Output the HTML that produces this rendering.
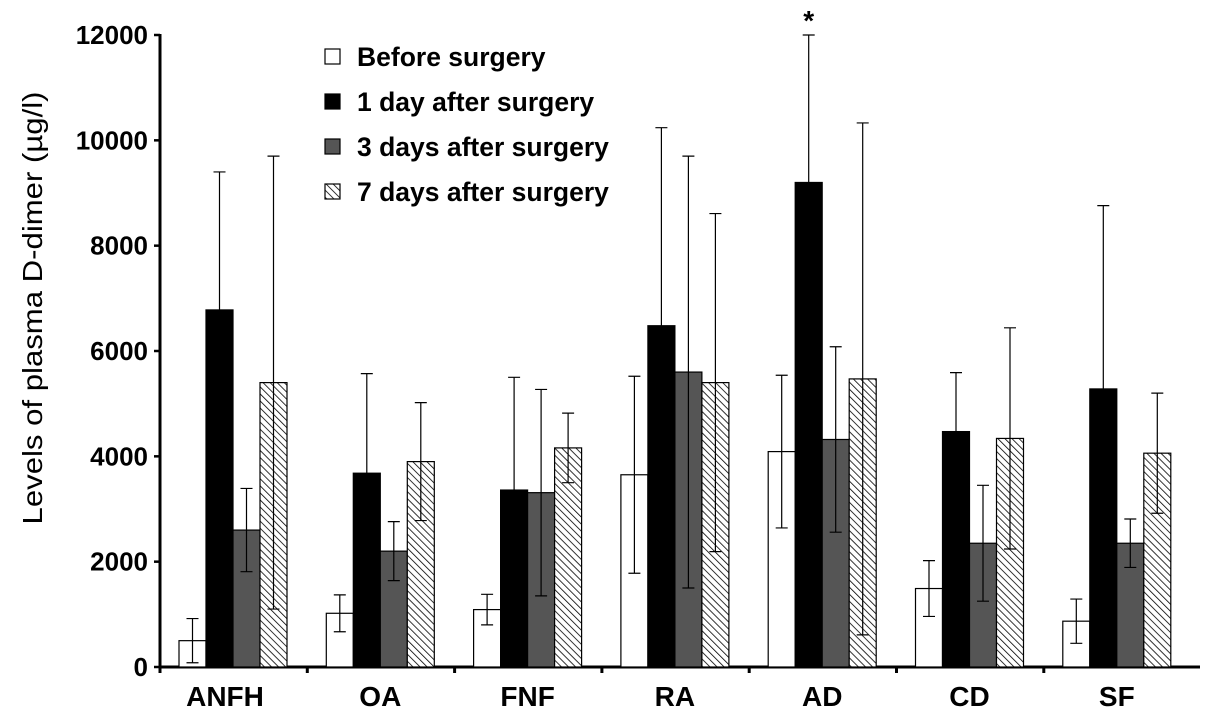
<!DOCTYPE html>
<html><head><meta charset="utf-8"><style>
body{margin:0;background:#fff;}
svg{display:block;font-family:"Liberation Sans",Arial,sans-serif;font-weight:bold;}
</style></head><body>
<svg id="c" width="1205" height="725">
<defs><pattern id="hatch" patternUnits="userSpaceOnUse" width="5" height="5" patternTransform="rotate(-45)"><rect width="5" height="5" fill="#fff"/><line x1="0" y1="0" x2="0" y2="5" stroke="#000" stroke-width="1.6"/></pattern></defs>
</svg>
<script>
const categories=["ANFH","OA","FNF","RA","AD","CD","SF"];
const seriesNames=["Before surgery","1 day after surgery","3 days after surgery","7 days after surgery"];
const before=[500,1020,1090,3650,4090,1490,870];
const day1=[6780,3680,3360,6480,9200,4470,5280];
const day3=[2600,2200,3310,5600,4320,2350,2350];
const day7=[5400,3900,4160,5400,5470,4340,4060];
const errBefore=[420,350,290,1870,1450,530,420];
const errDay1=[2620,1890,2140,3760,2800,1120,3480];
const errDay3=[790,560,1960,4100,1760,1100,460];
const errDay7=[4300,1120,660,3210,4860,2100,1140];
const yTicks=[0,2000,4000,6000,8000,10000,12000];
const svg=document.getElementById('c');
const NS='http://www.w3.org/2000/svg';
function el(t,a,txt){const e=document.createElementNS(NS,t);for(const k in a)e.setAttribute(k,a[k]);if(txt!=null)e.textContent=txt;svg.appendChild(e);return e;}
const y0=667,y1=35,yMax=12000,ax=160;
function Y(v){return y0-(v/yMax)*(y0-y1);}
const gx0=179,gStep=147.3,bw=27;
function X(ci,si){return gx0+ci*gStep+si*bw;}
const series=[before,day1,day3,day7],errs=[errBefore,errDay1,errDay3,errDay7];
const fills=["#fff","#000","#555","url(#hatch)"];
let a=el('line',{x1:ax,y1:y1-1,x2:ax,y2:y0+1,stroke:'#000','stroke-width':3});

a=el('line',{x1:ax-1,y1:y0,x2:1200,y2:y0,stroke:'#000','stroke-width':3});

yTicks.forEach(v=>{
 const t=el('line',{x1:ax-6,y1:Y(v),x2:ax,y2:Y(v),stroke:'#000','stroke-width':2.5});
 
 const l=el('text',{x:148,y:Y(v)+9,'text-anchor':'end','font-size':26},v);
 
});
categories.forEach((c,ci)=>{
 const tx=ax+ci*gStep;
 const t=el('line',{x1:tx,y1:y0,x2:tx,y2:y0+6,stroke:'#000','stroke-width':3});
 
 const l=el('text',{x:X(ci,2)-(ci==0?8:0),y:706,'text-anchor':'middle','font-size':28},c);
 
 series.forEach((s,si)=>{
  const x=X(ci,si),v=s[ci],e=errs[si][ci];
  const r=el('rect',{x:x,y:Y(v),width:bw,height:y0-Y(v),fill:fills[si],stroke:'#000','stroke-width':1.2});
  
  const cx=x+bw/2,lo=si==1?v:v-e;
  const eb=el('path',{d:`M${cx},${Y(lo)}V${Y(v+e)}M${cx-6},${Y(v+e)}H${cx+6}`+(si==1?'':`M${cx-6},${Y(lo)}H${cx+6}`),stroke:'#000','stroke-width':1.2,fill:'none'});
  
 });
});
const star=el('text',{x:X(4,1)+bw/2,y:30,'text-anchor':'middle','font-size':28},'*');

const yt=el('text',{x:0,y:0,transform:'translate(42,308) rotate(-90)','text-anchor':'middle','font-size':28,'font-weight':'normal',textLength:433,lengthAdjust:'spacingAndGlyphs'},'Levels of plasma D-dimer (µg/l)');

seriesNames.forEach((n,i)=>{
 const yy=57+i*45;
 const r=el('rect',{x:325,y:yy-8,width:15,height:15,fill:fills[i],stroke:'#000','stroke-width':1.2});
 
 const t=el('text',{x:357,y:yy+9,'font-size':26.5},n);
 
});
</script>
</body></html>
